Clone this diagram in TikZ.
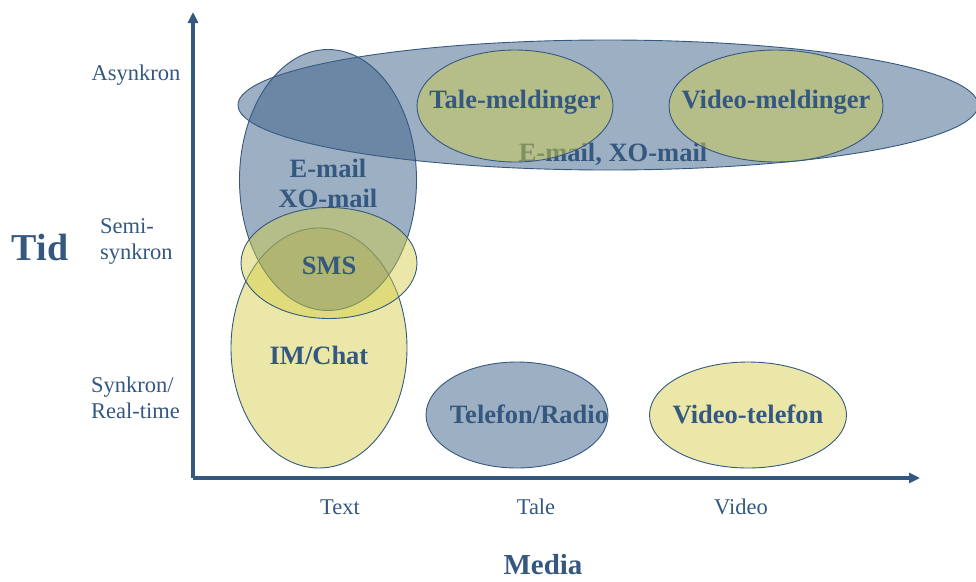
\documentclass[tikz,border=0pt]{standalone}
\usepackage{fontspec}
\setmainfont{Liberation Serif}
\usetikzlibrary{arrows.meta,shapes.geometric}
\definecolor{ink}{RGB}{52,88,128}
\definecolor{bluefill}{RGB}{60,95,135}
\definecolor{yellowfill}{RGB}{210,205,70}
\tikzset{
  axis/.style={draw=ink,line width=3.5pt,-{Triangle[length=11pt,width=10pt]}},
  blob/.style={ellipse,draw=ink,line width=0.9pt,inner sep=0pt},
  blueblob/.style={blob,fill=bluefill,fill opacity=0.5},
  yellowblob/.style={blob,fill=yellowfill,fill opacity=0.47},
  tag/.style={text=ink,font=\bfseries\fontsize{26.5}{30}\selectfont,align=center,inner sep=0pt},
  scalelabel/.style={text=ink,font=\fontsize{22.5}{26}\selectfont,align=left,inner sep=0pt},
}
\begin{document}
\begin{tikzpicture}[x=1pt,y=-1pt]
\useasboundingbox (0,0) rectangle (976,581);

% axes
\coordinate (origin) at (193,478);
\coordinate (ytip) at (193,12);
\coordinate (xtip) at (920,478);
\draw[axis] (origin) -- (ytip);
\draw[axis] (origin) -- (xtip);

% regions
\node[yellowblob,minimum width=176pt,minimum height=240pt] (chat) at (319,348) {};
\node[blueblob,minimum width=740pt,minimum height=130pt] (asyncmail) at (608,105) {};
\node[tag] (asyncmailtxt) at (613,154) {E-mail, XO-mail};
\node[blueblob,minimum width=177pt,minimum height=261pt] (mail) at (328,180) {};
\node[yellowblob,minimum width=176pt,minimum height=111pt] (sms) at (329,263) {};
\node[yellowblob,minimum width=196pt,minimum height=112pt] (voicemsg) at (515,106) {};
\node[yellowblob,minimum width=214pt,minimum height=112pt] (videomsg) at (776,106) {};
\node[blueblob,minimum width=182pt,minimum height=106pt] (phone) at (517,415) {};
\node[yellowblob,minimum width=197pt,minimum height=106pt] (videophone) at (748,415) {};

% region labels
\node[tag] at (328,183) {E-mail\\XO-mail};
\node[tag] at (329,266) {SMS};
\node[tag] at (319,355) {IM/Chat};
\node[tag] at (515,102) {Tale-meldinger};
\node[tag] at (776,102) {Video-meldinger};
\node[tag] at (529,414) {Telefon/Radio};
\node[tag] at (748,414) {Video-telefon};

% time axis labels
\node[scalelabel] (asyn) at (136,75) {Asynkron};
\node[scalelabel,anchor=west] (semi) at (100,241) {Semi-\\synkron};
\node[scalelabel,anchor=west] (sync) at (91,398) {Synkron/\\Real-time};
\node[text=ink,font=\bfseries\fontsize{38}{42}\selectfont,inner sep=0pt] (tid) at (40,247) {Tid};

% media axis labels
\node[scalelabel] (text) at (340,507) {Text};
\node[scalelabel] (tale) at (536,507) {Tale};
\node[scalelabel] (video) at (741,507) {Video};
\node[text=ink,font=\bfseries\fontsize{29}{32}\selectfont,inner sep=0pt] (media) at (543,565) {Media};
\end{tikzpicture}
\end{document}
